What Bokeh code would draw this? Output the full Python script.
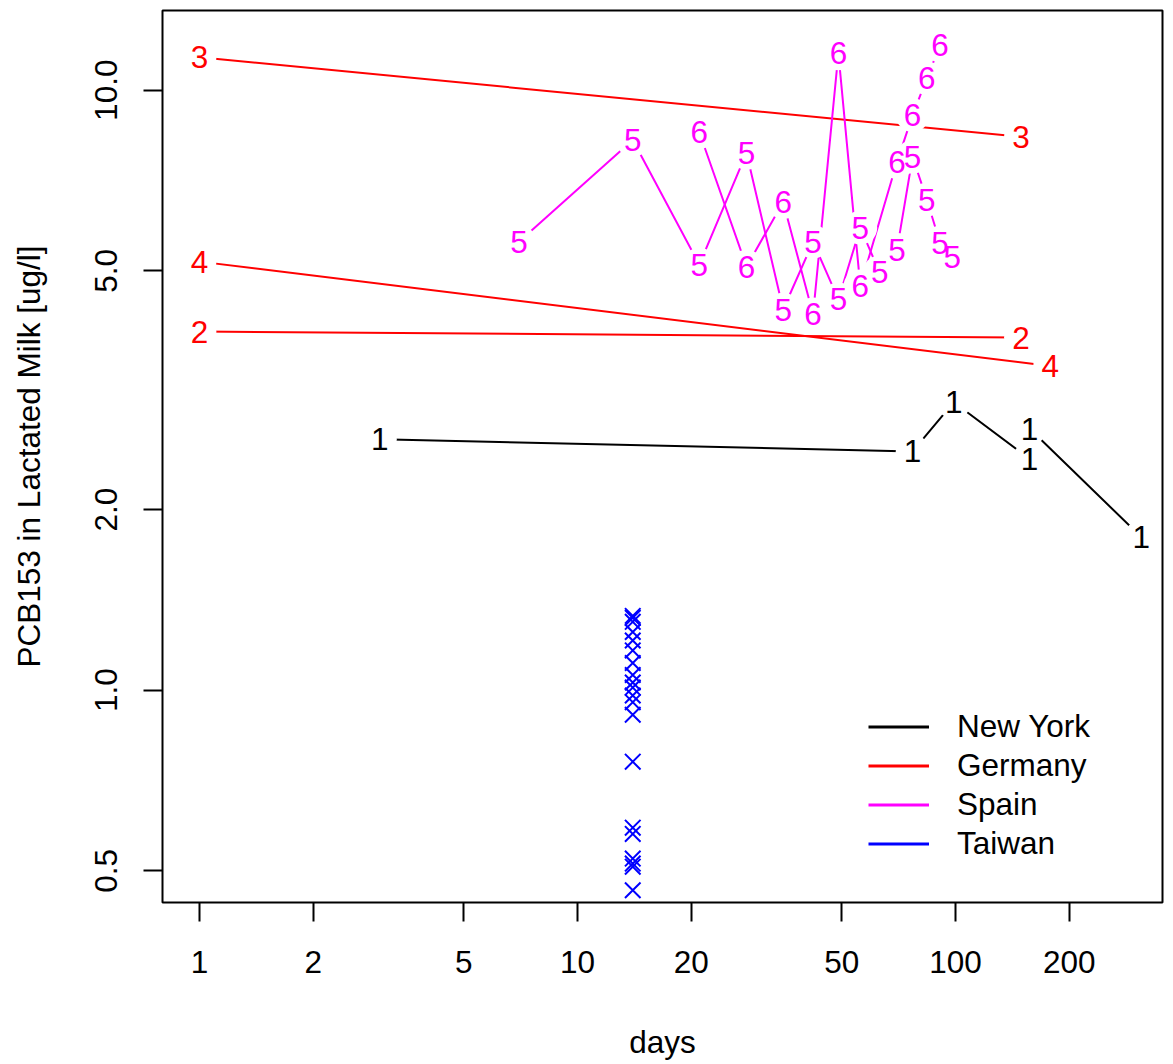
from bokeh.plotting import figure
from bokeh.models import (ColumnDataSource, Range1d, FixedTicker, CustomJSTickFormatter,
                          Legend, LegendItem)
from bokeh.core.properties import value
from bokeh.embed import file_html
from bokeh.resources import INLINE

# ---------------- data ----------------
# New York, subject 1
ny_days = [3, 77, 99, 157, 157, 310]
ny_vals = [2.62, 2.50, 3.02, 2.43, 2.73, 1.80]

# Germany, subjects 2, 3, 4
de2_days = [1, 149]
de2_vals = [3.96, 3.87]
de3_days = [1, 149]
de3_vals = [11.35, 8.36]
de4_days = [1, 178]
de4_vals = [5.18, 3.47]

# Spain, subjects 5, 6
es5_days = [7, 14, 21, 28, 35, 42, 49, 56, 63, 70, 77, 84, 91, 98]
es5_vals = [5.59, 8.26, 5.12, 7.86, 4.31, 5.59, 4.48, 5.90, 4.97, 5.42, 7.74, 6.57, 5.57, 5.28]
es6_days = [21, 28, 35, 42, 49, 56, 70, 77, 84, 91]
es6_vals = [8.51, 5.08, 6.51, 4.23, 11.52, 4.71, 7.59, 9.09, 10.47, 11.88]

# Taiwan (points only)
tw_days = [14] * 20
tw_vals = [1.33, 1.32, 1.30, 1.25, 1.21, 1.165, 1.11, 1.06, 1.03, 1.01,
           0.98, 0.955, 0.91, 0.76, 0.59, 0.576, 0.524, 0.514, 0.508, 0.464]

x_ticks = [1, 2, 5, 10, 20, 50, 100, 200]
y_ticks = [0.5, 1.0, 2.0, 5.0, 10.0]

groups = ["New York", "Germany", "Spain", "Taiwan"]
colors = {"New York": "#000000", "Germany": "#FF0000", "Spain": "#FF00FF", "Taiwan": "#0000FF"}

subjects = [
    ("1", "New York", ny_days, ny_vals),
    ("2", "Germany", de2_days, de2_vals),
    ("3", "Germany", de3_days, de3_vals),
    ("4", "Germany", de4_days, de4_vals),
    ("5", "Spain", es5_days, es5_vals),
    ("6", "Spain", es6_days, es6_vals),
]

FONT = "Liberation Sans"
FS = "31.5px"

p = figure(width=1168, height=1062, x_axis_type="log", y_axis_type="log",
           x_range=Range1d(0.798, 352.9), y_range=Range1d(0.4427, 13.58),
           output_backend="svg", toolbar_location=None,
           min_border_left=162, min_border_right=6, min_border_top=10, min_border_bottom=157)
p.grid.visible = False
p.outline_line_color = "black"
p.outline_line_width = 2
p.background_fill_color = "white"
p.border_fill_color = "white"

# lines
for sid, grp, d, v in subjects:
    p.line(d, v, line_color=colors[grp], line_width=2)

# gap masks + labels
lx, ly, lt, lc = [], [], [], []
for sid, grp, d, v in subjects:
    lx += list(d)
    ly += list(v)
    lt += [sid] * len(d)
    lc += [colors[grp]] * len(d)
src = ColumnDataSource(dict(x=lx, y=ly, t=lt, c=lc))

p.text(x="x", y="y", text="t", source=src, text_color="white",
       text_font=value(FONT), text_font_size=FS, text_align="center", text_baseline="middle",
       background_fill_color="white", outline_shape="circle", padding=2)
p.text(x="x", y="y", text="t", source=src, text_color="c",
       text_font=value(FONT), text_font_size=FS, text_align="center", text_baseline="middle")

# Taiwan points
p.scatter(tw_days, tw_vals, marker="x", size=22, line_color=colors["Taiwan"], line_width=2)

# axes
for ax in (p.xaxis[0], p.yaxis[0]):
    ax.minor_tick_line_color = None
    ax.major_tick_in = 0
    ax.major_tick_out = 19
    ax.major_tick_line_width = 2
    ax.major_tick_line_color = "black"
    ax.axis_line_color = None
    ax.major_label_text_font = FONT
    ax.major_label_text_font_size = FS
    ax.major_label_text_color = "black"
    ax.axis_label_text_font = FONT
    ax.axis_label_text_font_size = FS
    ax.axis_label_text_font_style = "normal"
    ax.axis_label_text_color = "black"

p.xaxis[0].ticker = FixedTicker(ticks=x_ticks)
p.xaxis[0].formatter = CustomJSTickFormatter(code="return String(Math.round(tick));")
p.xaxis[0].major_label_standoff = 29
p.xaxis[0].axis_label = "days"
p.xaxis[0].axis_label_standoff = 48

p.yaxis[0].ticker = FixedTicker(ticks=y_ticks)
p.yaxis[0].formatter = CustomJSTickFormatter(code="return tick.toFixed(1);")
p.yaxis[0].major_label_orientation = "vertical"
p.yaxis[0].major_label_standoff = 26
p.yaxis[0].axis_label = "PCB153 in Lactated Milk [ug/l]"
p.yaxis[0].axis_label_standoff = 46

# legend (line samples)
nan = float("nan")
items = []
for g in groups:
    r = p.line([nan], [nan], line_color=colors[g], line_width=3)
    items.append(LegendItem(label=g, renderers=[r]))
legend = Legend(items=items, location=(706, 39), border_line_color=None,
                background_fill_alpha=0, label_text_font=FONT, label_text_font_size=FS,
                label_text_color="black",
                glyph_width=61, glyph_height=39, label_height=39, label_standoff=28,
                spacing=0, padding=0, margin=0)
p.add_layout(legend)

open("out.html", "w").write(file_html(p, INLINE))
